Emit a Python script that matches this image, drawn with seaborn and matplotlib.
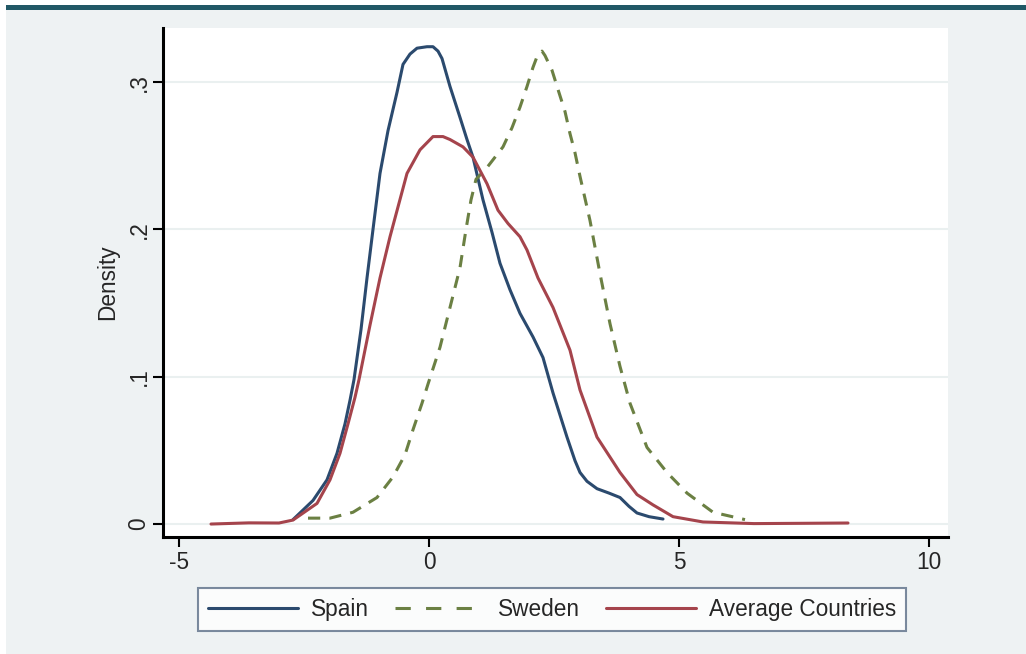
import numpy as np
import pandas as pd
import matplotlib
matplotlib.use("Agg")
import matplotlib.pyplot as plt
from matplotlib.patches import Rectangle
from matplotlib.lines import Line2D
import seaborn as sns

# ---- data ----
spain_x = [-2.72, -2.32, -2.04, -1.84, -1.68, -1.58, -1.50, -1.36, -1.24, -1.12, -0.98, -0.82,
           -0.64, -0.52, -0.38, -0.24, -0.04, 0.08, 0.18, 0.26, 0.42, 0.62, 0.76, 0.88, 1.08,
           1.26, 1.42, 1.62, 1.82, 2.08, 2.28, 2.48, 2.76, 2.92, 3.02, 3.16, 3.36, 3.60, 3.82,
           4.00, 4.16, 4.40, 4.68]
spain_y = [0.003, 0.016, 0.030, 0.048, 0.068, 0.084, 0.098, 0.132, 0.167, 0.200, 0.238, 0.267,
           0.293, 0.312, 0.319, 0.323, 0.324, 0.324, 0.321, 0.316, 0.297, 0.276, 0.261, 0.249, 0.220,
           0.198, 0.177, 0.159, 0.143, 0.127, 0.113, 0.089, 0.059, 0.043, 0.035, 0.029, 0.024, 0.021, 0.018,
           0.012, 0.0075, 0.005, 0.0034]

sweden_x = [-2.42, -1.98, -1.52, -1.04, -0.72, -0.48, -0.32, -0.14, -0.02, 0.22, 0.42, 0.62,
            0.74, 0.84, 0.94, 1.16, 1.48, 1.66, 1.82, 1.96, 2.08, 2.18, 2.26, 2.32, 2.46, 2.58,
            2.72, 2.82, 2.92, 3.02, 3.22, 3.42, 3.62, 3.82, 4.02, 4.36, 4.76, 5.16, 5.68, 6.32]
sweden_y = [0.004, 0.004, 0.008, 0.018, 0.032, 0.047, 0.064, 0.082, 0.095, 0.120, 0.147, 0.174,
            0.200, 0.220, 0.234, 0.242, 0.256, 0.269, 0.283, 0.297, 0.310, 0.319, 0.321, 0.318, 0.308, 0.295,
            0.280, 0.265, 0.252, 0.236, 0.206, 0.170, 0.136, 0.107, 0.082, 0.052, 0.035, 0.021, 0.008, 0.003]

avg_x = [-4.36, -3.6, -3.0, -2.72, -2.24, -1.98, -1.78, -1.62, -1.48, -1.40, -1.18, -0.98,
         -0.78, -0.44, -0.18, 0.08, 0.28, 0.42, 0.68, 0.88, 1.16, 1.38, 1.58, 1.82, 1.96,
         2.18, 2.48, 2.82, 3.02, 3.36, 3.82, 4.16, 4.48, 4.88, 5.48, 6.5, 7.5, 8.38]
avg_y = [0.0, 0.0008, 0.0007, 0.0027, 0.014, 0.030, 0.048, 0.068, 0.086, 0.098, 0.135, 0.167,
         0.195, 0.238, 0.254, 0.263, 0.263, 0.261, 0.256, 0.249, 0.231, 0.213, 0.204, 0.195, 0.186,
         0.167, 0.147, 0.118, 0.091, 0.059, 0.035, 0.020, 0.013, 0.005, 0.0014, 0.0003, 0.0005, 0.0007]

series_names = ["Spain", "Sweden", "Average Countries"]
x_ticks = [-5, 0, 5, 10]
x_tick_labels = ["-5", "0", "5", "10"]
y_ticks = [0, 0.1, 0.2, 0.3]
y_tick_labels = ["0", ".1", ".2", ".3"]

# ---- styling ----
sns.set_theme(style="white")
plt.rcParams["font.family"] = ["Liberation Sans", "DejaVu Sans"]

C_SPAIN = "#2B4A6E"
C_SWEDEN = "#6B8043"
C_AVG = "#A5444C"
BG = "#EEF2F3"
FS = 16.3
LW = 2.2
DASH = (0, (4, 3))

W, H = 1026, 654
fig = plt.figure(figsize=(W / 100, H / 100), dpi=100, facecolor="white")
fig.patches.append(Rectangle((6 / W, 0), 1 - 6 / W, 1 - 10 / H, transform=fig.transFigure,
                             facecolor=BG, edgecolor="none", zorder=-10))
fig.patches.append(Rectangle((6 / W, 1 - 10 / H), 1 - 6 / W, 5 / H, transform=fig.transFigure,
                             facecolor="#215866", edgecolor="none", zorder=-10))

ax = fig.add_axes([163 / W, 1 - 537 / H, (948 - 163) / W, (537 - 28) / H])
ax.set_facecolor("white")

sns.lineplot(x=spain_x, y=spain_y, ax=ax, color=C_SPAIN, linewidth=LW, sort=False)
sns.lineplot(x=sweden_x, y=sweden_y, ax=ax, color=C_SWEDEN, linewidth=LW, sort=False,
             linestyle=DASH)
sns.lineplot(x=avg_x, y=avg_y, ax=ax, color=C_AVG, linewidth=LW, sort=False)
for ln in ax.get_lines():
    ln.set_solid_joinstyle("round")
    ln.set_dash_capstyle("butt")

ax.set_xlim(-5.32, 10.38)
ax.set_ylim(-0.0088, 0.3367)
ax.set_xticks(x_ticks)
ax.set_xticklabels(x_tick_labels, fontsize=FS)
ax.set_yticks(y_ticks)
ax.set_yticklabels(y_tick_labels, fontsize=FS, rotation=90, va="center")
ax.tick_params(axis="both", direction="out", length=7, width=1.5, color="black",
               left=True, bottom=True)
ax.tick_params(axis="x", pad=3)
ax.tick_params(axis="y", pad=2)
ax.set_ylabel("Density", fontsize=FS, labelpad=6)
ax.set_xlabel("")
ax.yaxis.grid(True, color="#EAF0F0", linewidth=1.5)
ax.set_axisbelow(True)
for s in ["top", "right"]:
    ax.spines[s].set_visible(False)
for s in ["left", "bottom"]:
    ax.spines[s].set_color("black")
    ax.spines[s].set_linewidth(2.2)

handles = [Line2D([], [], color=C_SPAIN, lw=LW),
           Line2D([], [], color=C_SWEDEN, lw=LW, linestyle=(0, (5, 5))),
           Line2D([], [], color=C_AVG, lw=LW)]
leg = fig.legend(handles, series_names, loc="center", bbox_to_anchor=(552 / W, 1 - 609.5 / H),
                 ncol=3, fontsize=FS, frameon=True, fancybox=False, handlelength=4.0,
                 handletextpad=0.55, columnspacing=1.15, borderpad=0.45)
leg.get_frame().set_edgecolor("#5B6E87")
leg.get_frame().set_linewidth(1.5)
leg.get_frame().set_facecolor("white")

fig.savefig("out.png", dpi=100, facecolor=fig.get_facecolor())
